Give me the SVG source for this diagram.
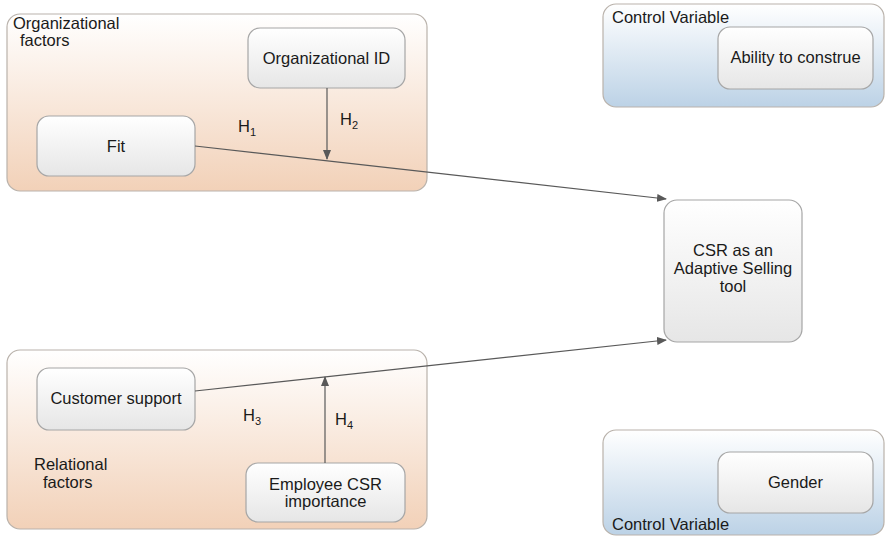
<svg xmlns="http://www.w3.org/2000/svg" width="887" height="538" viewBox="0 0 887 538">
<style>
text{font-family:"Liberation Sans",Arial,sans-serif;font-size:16.5px;fill:#1a1a1a}
.c{text-anchor:middle}
.grp{stroke:#b9b2ab;stroke-width:1.2}
.node{fill:url(#gNode);stroke:#a6a6a6;stroke-width:1.2}
.edge{stroke:#595959;stroke-width:1.2;fill:none;marker-end:url(#arr)}
.sub{font-size:11px}
</style>
<defs>
<linearGradient id="gOrg" x1="0" y1="0" x2="0" y2="1"><stop offset="0" stop-color="#ffffff"/><stop offset="1" stop-color="#f2d1b8"/></linearGradient>
<linearGradient id="gBlue" x1="0" y1="0" x2="0" y2="1"><stop offset="0" stop-color="#ffffff"/><stop offset="1" stop-color="#bcd2e6"/></linearGradient>
<linearGradient id="gNode" x1="0" y1="0" x2="0" y2="1"><stop offset="0" stop-color="#ffffff"/><stop offset="1" stop-color="#e6e6e6"/></linearGradient>
<marker id="arr" markerWidth="10" markerHeight="8" refX="9" refY="4" orient="auto" markerUnits="userSpaceOnUse"><path d="M0,0 L10,4 L0,8 Z" fill="#595959"/></marker>
</defs>

<g id="org-factors">
<rect class="grp" x="7" y="14" width="420" height="177" rx="13" fill="url(#gOrg)"/>
<text x="13" y="29">Organizational</text>
<text x="20" y="46">factors</text>
</g>
<g id="rel-factors">
<rect class="grp" x="7" y="350" width="420" height="179" rx="13" fill="url(#gOrg)"/>
<text x="34" y="470">Relational</text>
<text x="43" y="488">factors</text>
</g>
<g id="control-top">
<rect class="grp" x="603" y="4" width="281" height="103" rx="13" fill="url(#gBlue)"/>
<text x="612" y="23">Control Variable</text>
</g>
<g id="control-bottom">
<rect class="grp" x="603" y="430" width="281" height="105" rx="13" fill="url(#gBlue)"/>
<text x="612" y="530">Control Variable</text>
</g>

<g id="org-id">
<rect class="node" x="248" y="28" width="157" height="60" rx="12"/>
<text class="c" x="326.5" y="64">Organizational ID</text>
</g>
<g id="fit">
<rect class="node" x="37" y="116" width="158" height="60" rx="12"/>
<text class="c" x="116" y="152">Fit</text>
</g>
<g id="ability">
<rect class="node" x="718" y="27" width="155" height="62" rx="12"/>
<text class="c" x="795.5" y="63">Ability to construe</text>
</g>
<g id="csr">
<rect class="node" x="664" y="200" width="138" height="142" rx="13"/>
<text class="c" x="733" y="256">CSR as an</text>
<text class="c" x="733" y="274">Adaptive Selling</text>
<text class="c" x="733" y="292">tool</text>
</g>
<g id="customer-support">
<rect class="node" x="37" y="368" width="158" height="62" rx="12"/>
<text class="c" x="116" y="404">Customer support</text>
</g>
<g id="employee-csr">
<rect class="node" x="246" y="463" width="159" height="59" rx="12"/>
<text class="c" x="325.5" y="490">Employee CSR</text>
<text class="c" x="325.5" y="507">importance</text>
</g>
<g id="gender">
<rect class="node" x="718" y="452" width="155" height="61" rx="12"/>
<text class="c" x="795.5" y="488">Gender</text>
</g>

<g id="connectors">
<line class="edge" x1="195" y1="146" x2="666" y2="199"/>
<line class="edge" x1="327" y1="88" x2="327" y2="159"/>
<line class="edge" x1="195" y1="391" x2="666" y2="340"/>
<line class="edge" x1="325" y1="463" x2="325" y2="377"/>
<text x="238" y="132">H<tspan class="sub" dy="4">1</tspan></text>
<text x="340" y="125">H<tspan class="sub" dy="4">2</tspan></text>
<text x="243" y="421">H<tspan class="sub" dy="4">3</tspan></text>
<text x="335" y="425">H<tspan class="sub" dy="4">4</tspan></text>
</g>
</svg>
